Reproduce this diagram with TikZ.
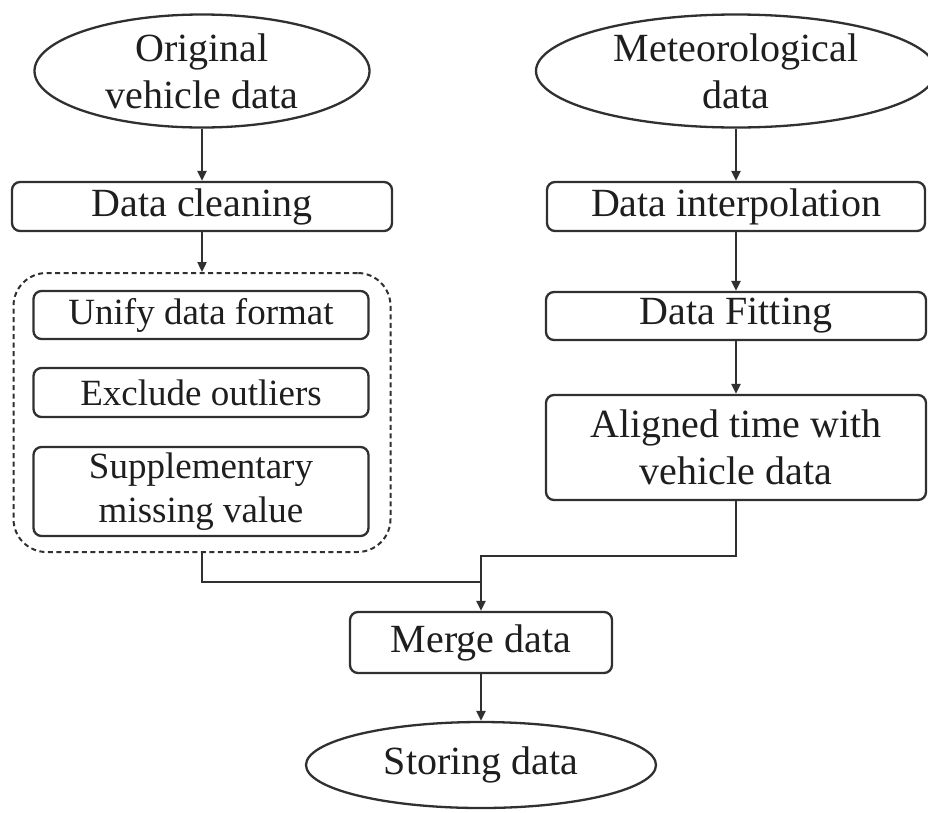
\documentclass[tikz,border=0pt]{standalone}
\usepackage{fontspec}
\setmainfont{Liberation Serif}
\usetikzlibrary{shapes.geometric,arrows.meta,calc}
\definecolor{ln}{HTML}{303030}
\definecolor{tx}{HTML}{1E1E1E}
\begin{document}
\begin{tikzpicture}[x=1pt,y=-1pt,
  every node/.style={text=tx},
  bigtxt/.style={font=\fontsize{40}{47}\selectfont, align=center},
  smalltxt/.style={font=\fontsize{37}{44}\selectfont, align=center},
  pbox/.style={draw=ln, line width=2.3pt, rounded corners=8pt, inner sep=0pt},
  oval/.style={draw=ln, line width=2.3pt, ellipse, inner sep=0pt},
  grpbox/.style={draw=ln, line width=2pt, dashed, dash pattern=on 5pt off 3.5pt, rounded corners=33pt, inner sep=0pt},
  conn/.style={draw=ln, line width=2.3pt},
  arr/.style={conn, -{Triangle[length=10pt,width=9pt]}}]
\useasboundingbox (0,0) rectangle (928,812);
\fill[white] (0,0) rectangle (928,812);

% left column
\node[oval, minimum width=335pt, minimum height=113pt] (orig) at (202,71) {};
\node[bigtxt] at (orig) {Original\\vehicle data};
\node[pbox, bigtxt, minimum width=380pt, minimum height=49pt] (clean) at (202,206.5) {Data cleaning};
\node[grpbox, minimum width=377pt, minimum height=279pt] (grp) at (202,412.5) {};
\node[pbox, smalltxt, minimum width=335pt, minimum height=48pt] (unify) at (201,315) {Unify data format};
\node[pbox, smalltxt, minimum width=335pt, minimum height=49pt] (excl) at (201,392.5) {Exclude outliers};
\node[pbox, smalltxt, minimum width=335pt, minimum height=89pt] (supp) at (201,491.5) {Supplementary\\missing value};

% right column
\node[oval, minimum width=400pt, minimum height=113pt] (meteo) at (736,71) {};
\node[bigtxt] at (meteo) {Meteorological\\data};
\node[pbox, bigtxt, minimum width=378pt, minimum height=49pt] (interp) at (736,206.5) {Data interpolation};
\node[pbox, bigtxt, minimum width=380pt, minimum height=48pt] (fit) at (736,316) {Data Fitting};
\node[pbox, bigtxt, minimum width=380pt, minimum height=105pt] (align) at (736,447.5) {Aligned time with\\vehicle data};

% bottom
\node[pbox, bigtxt, minimum width=262pt, minimum height=61pt] (merge) at (481,642.5) {Merge data};
\node[oval, minimum width=350pt, minimum height=86pt] (store) at (481,765) {};
\node[bigtxt] at (store) {Storing data};

\coordinate (jl) at (481,582);
\coordinate (jr) at (481,556);

% connectors
\draw[arr] (orig.south) -- (clean.north);
\draw[arr] (clean.south) -- (grp.north);
\draw[arr] (meteo.south) -- (interp.north);
\draw[arr] (interp.south) -- (fit.north);
\draw[arr] (fit.south) -- (align.north);
\draw[conn] (grp.south) |- (jl);
\draw[arr] (align.south) |- (jr) -- (merge.north);
\draw[arr] (merge.south) -- (store.north);
\end{tikzpicture}
\end{document}
